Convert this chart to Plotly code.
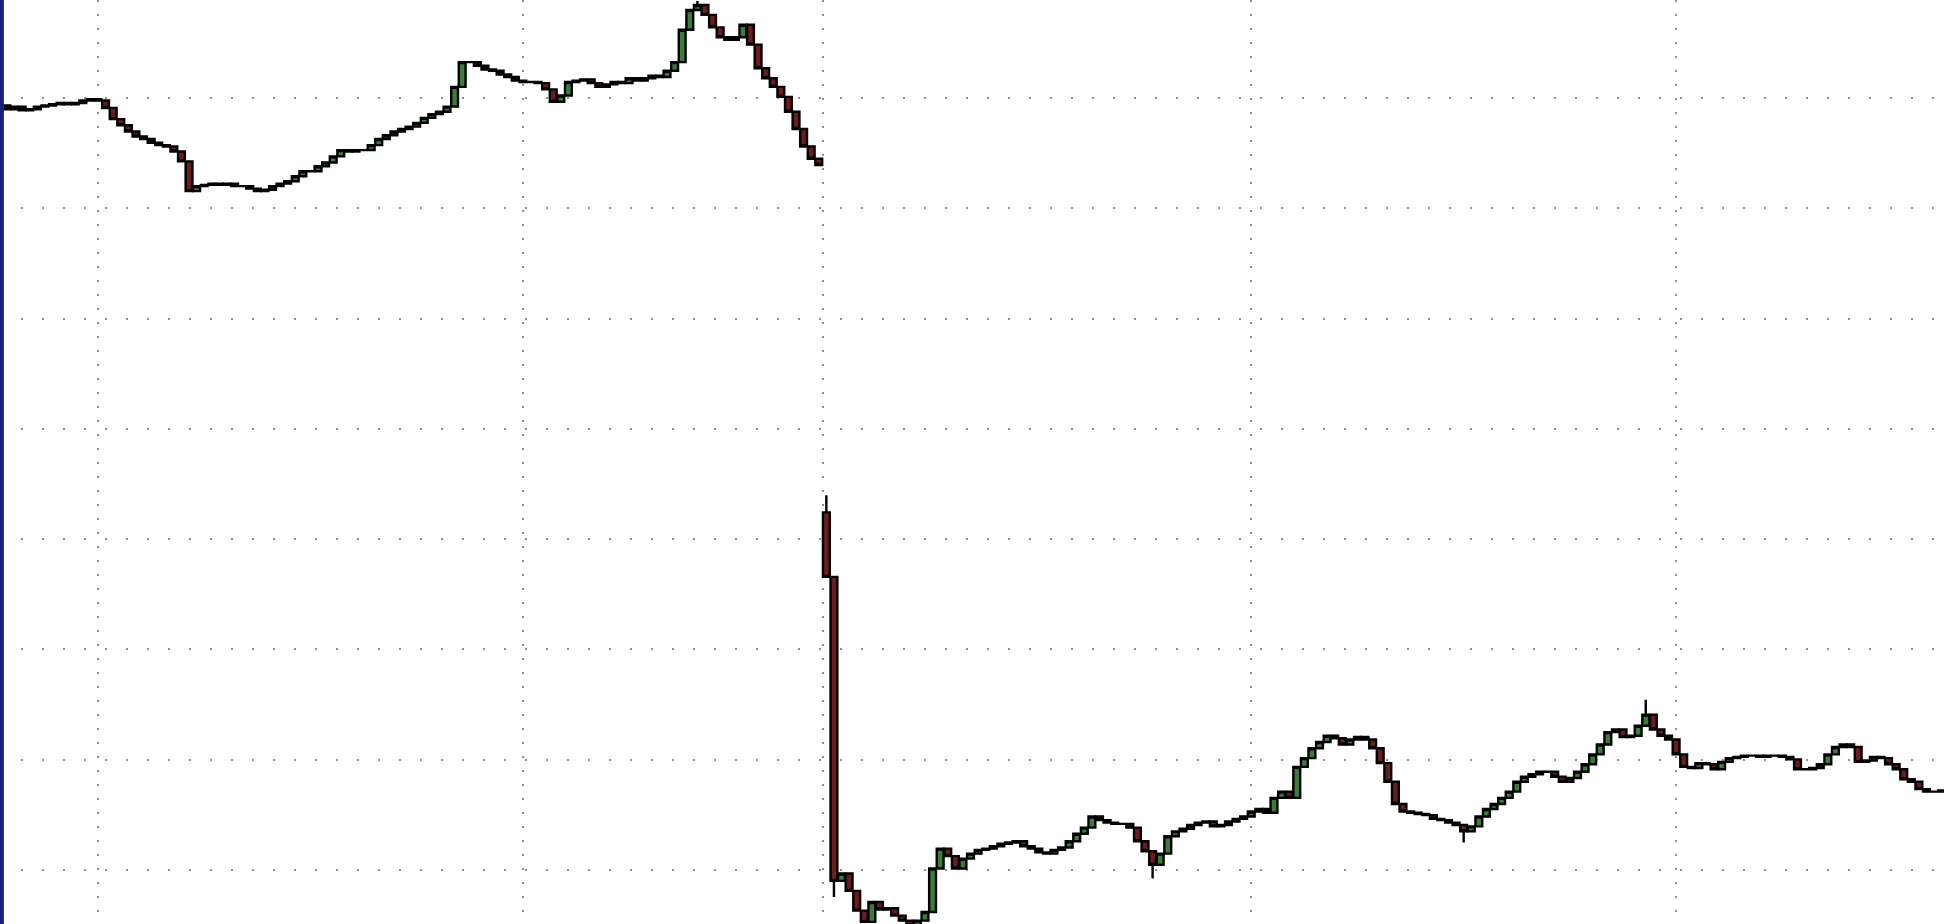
import plotly.graph_objects as go

# ---- data (price units; horizontal grid every 10 units) ----
session1_close = [
    79.33, 78.99, 79.22, 78.88, 78.99, 79.22, 79.33, 79.44, 79.55, 79.44,
    79.55, 79.78, 79.89, 79.78, 79.10, 78.09, 77.53, 76.96, 76.51, 76.29,
    75.95, 75.73, 75.61, 75.16, 74.26, 71.56, 72.01, 72.13, 72.24, 72.13,
    72.24, 72.01, 72.01, 71.79, 71.56, 71.68, 72.01, 72.24, 72.46, 72.91,
    73.36, 73.36, 73.81, 74.15, 74.71, 75.28, 75.16, 75.28, 75.28, 75.73,
    76.29, 76.63, 76.96, 77.19, 77.41, 77.75, 78.20, 78.54, 78.76, 79.22,
    81.01, 83.26, 83.26, 82.93, 82.59, 82.48, 82.14, 81.91, 81.58, 81.46,
    81.46, 81.35, 80.79, 79.66, 80.23, 81.46, 81.58, 81.69, 81.35, 81.01,
    81.24, 81.46, 81.35, 81.80, 81.58, 81.80, 82.03, 81.91, 82.48, 83.26,
    86.19, 87.99, 88.44, 87.54, 86.41, 85.51, 85.29, 85.51, 86.64, 84.84,
    82.70, 81.80, 81.01, 80.11, 78.76, 77.19, 75.61, 74.49, 73.93,
]
session1_first_open = 79.20

session2_open = 42.43
session2_close = [
    36.58, 9.02, 9.69, 8.11, 6.32, 5.30, 7.10, 6.43, 6.54, 5.87,
    5.42, 4.97, 5.42, 6.20, 10.14, 11.94, 11.26, 10.14, 11.04, 11.49,
    11.83, 11.94, 12.16, 12.39, 12.50, 12.61, 12.16, 11.94, 11.60, 11.49,
    11.83, 12.05, 12.61, 13.29, 13.85, 14.86, 14.53, 14.30, 14.19, 14.19,
    13.85, 12.61, 11.71, 10.48, 11.49, 13.06, 13.51, 13.74, 14.08, 14.30,
    14.41, 13.96, 14.08, 14.41, 14.64, 14.86, 15.31, 15.54, 15.20, 16.55,
    17.11, 16.55, 19.36, 20.15, 21.05, 21.61, 22.18, 21.95, 21.39, 21.84,
    22.06, 21.84, 21.05, 19.70, 18.01, 15.99, 15.31, 15.20, 15.09, 14.98,
    14.64, 14.53, 14.30, 14.08, 13.51, 13.96, 14.86, 15.54, 15.99, 16.55,
    17.11, 18.01, 18.46, 18.69, 18.91, 18.91, 18.46, 18.01, 18.35, 18.91,
    19.59, 20.49, 21.39, 22.51, 22.74, 22.06, 22.18, 23.08, 24.09, 22.74,
    22.18, 21.84, 20.49, 19.36, 19.25, 19.70, 19.59, 19.14, 19.81, 20.15,
    20.26, 20.38, 20.38, 20.26, 20.38, 20.38, 20.26, 20.04, 19.14, 19.14,
    19.25, 19.59, 20.49, 21.16, 21.39, 21.16, 19.81, 19.93, 20.26, 20.15,
    19.59, 19.14, 18.24, 18.01, 17.34, 17.11, 17.11, 17.23,
]

# notable wick extremes (bar index -> price)
wick_highs = {92: 88.80, 109: 43.99, 217: 25.44}
wick_lows = {110: 7.56, 152: 9.24, 193: 12.50}

# time grid positions (bar index) and price grid levels
time_grid_bars = [13, 69, 108.5, 165, 221]
price_grid_levels = [10, 20, 30, 40, 50, 60, 70, 80]

# ---- build OHLC ----
closes = session1_close + session2_close
opens = [session1_first_open] + session1_close[:-1] + [session2_open] + session2_close[:-1]
highs = [max(o, c) for o, c in zip(opens, closes)]
lows = [min(o, c) for o, c in zip(opens, closes)]
for k, v in wick_highs.items():
    highs[k] = v
for k, v in wick_lows.items():
    lows[k] = v
x = list(range(len(closes)))

fig = go.Figure(go.Candlestick(
    x=x, open=opens, high=highs, low=lows, close=closes,
    increasing=dict(line=dict(color="#000000", width=2.4), fillcolor="#3c7d3c"),
    decreasing=dict(line=dict(color="#000000", width=2.4), fillcolor="#6e1b1b"),
    whiskerwidth=0,
    showlegend=False,
    hoverinfo="skip",
))

fig.update_layout(
    width=1944, height=924,
    margin=dict(l=0, r=0, t=0, b=0),
    paper_bgcolor="#ffffff", plot_bgcolor="#ffffff",
    showlegend=False,
    boxgap=0.1, boxgroupgap=0,
    xaxis=dict(
        range=[0.083, 256.31], rangeslider=dict(visible=False),
        tickmode="array", tickvals=time_grid_bars, showticklabels=False,
        ticks="", showgrid=True, gridcolor="#8e8e8e", gridwidth=2,
        griddash="2px,12px", zeroline=False, showline=False,
    ),
    yaxis=dict(
        range=[5.11, 88.89],
        tickmode="array", tickvals=price_grid_levels, showticklabels=False,
        ticks="", showgrid=True, gridcolor="#8e8e8e", gridwidth=2,
        griddash="2px,19px", zeroline=False, showline=False,
    ),
    shapes=[dict(type="rect", xref="paper", yref="paper",
                 x0=0, x1=0.002, y0=0, y1=1,
                 fillcolor="#1b1f78", line=dict(width=0), layer="above")],
)

fig.write_html("out.html", config={"displayModeBar": False},
               post_script="document.body.style.margin='0';")
